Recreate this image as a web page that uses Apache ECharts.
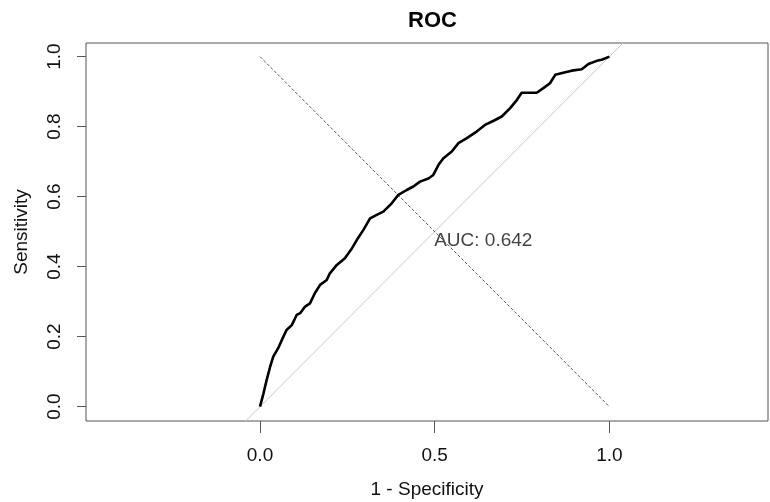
<!DOCTYPE html>
<html>
<head>
<meta charset="utf-8">
<script src="https://cdn.jsdelivr.net/npm/echarts@6/dist/echarts.min.js"></script>
<style>html,body{margin:0;padding:0;background:#fff}#c{width:770px;height:502px}</style>
</head>
<body>
<div id="c"></div>
<script>
// ROC curve points (1 - specificity, sensitivity)
var fpr = [0, 0.010, 0.019, 0.029, 0.038, 0.052, 0.067, 0.076, 0.091, 0.105, 0.115, 0.129, 0.143, 0.157, 0.172, 0.191, 0.200, 0.220, 0.243, 0.263, 0.277, 0.296, 0.315, 0.334, 0.353, 0.377, 0.396, 0.420, 0.439, 0.458, 0.482, 0.496, 0.511, 0.525, 0.549, 0.568, 0.592, 0.620, 0.644, 0.673, 0.692, 0.716, 0.735, 0.749, 0.792, 0.811, 0.830, 0.845, 0.868, 0.892, 0.921, 0.940, 0.964, 0.978, 1.0];
var tpr = [0, 0.038, 0.076, 0.114, 0.143, 0.167, 0.200, 0.219, 0.233, 0.262, 0.267, 0.286, 0.295, 0.324, 0.348, 0.362, 0.381, 0.405, 0.424, 0.452, 0.476, 0.505, 0.538, 0.548, 0.557, 0.581, 0.605, 0.619, 0.629, 0.643, 0.652, 0.662, 0.691, 0.710, 0.729, 0.753, 0.767, 0.786, 0.805, 0.819, 0.829, 0.853, 0.876, 0.897, 0.897, 0.910, 0.924, 0.948, 0.954, 0.960, 0.964, 0.979, 0.988, 0.991, 1.0];
var xTicks = [0, 0.5, 1.0];
var yTicks = [0, 0.2, 0.4, 0.6, 0.8, 1.0];
var xRange = [-0.498, 1.454];
var yRange = [-0.041, 1.039];
var aucText = 'AUC: 0.642';
var aucPos = [0.5, 0.5];
var refDash = [[0, 1], [1, 0]];
var titleText = 'ROC';
var xName = '1 - Specificity';
var yName = 'Sensitivity';

var FONT = '"Liberation Sans", Arial, sans-serif';
var chart = echarts.init(document.getElementById('c'), null, {renderer: 'canvas'});
var rocData = fpr.map(function (x, i) { return [x, tpr[i]]; });

chart.setOption({
  animation: false,
  backgroundColor: '#fff',
  title: {
    text: titleText, left: 408, top: 10, padding: 0,
    textStyle: {fontFamily: FONT, fontSize: 22, fontWeight: 'bold', color: '#000'}
  },
  grid: {left: 86, right: 2, top: 43, bottom: 81, show: true, borderColor: '#555', borderWidth: 1,
    containLabel: false, outerBoundsMode: 'none'},
  xAxis: {
    type: 'value', min: xRange[0], max: xRange[1],
    name: xName, nameLocation: 'middle', nameGap: 59,
    nameTextStyle: {fontFamily: FONT, fontSize: 19, color: '#111'},
    axisLine: {show: false, onZero: false},
    splitLine: {show: false},
    axisTick: {show: true, customValues: xTicks, length: 12, lineStyle: {color: '#555'}},
    axisLabel: {customValues: xTicks, margin: 25, fontFamily: FONT, fontSize: 19, color: '#111',
      formatter: function (v) { return v.toFixed(1); }}
  },
  yAxis: {
    type: 'value', min: yRange[0], max: yRange[1],
    name: yName, nameLocation: 'middle', nameGap: 55, nameRotate: 90,
    nameTextStyle: {fontFamily: FONT, fontSize: 19, color: '#111'},
    axisLine: {show: false, onZero: false},
    splitLine: {show: false},
    axisTick: {show: true, customValues: yTicks, length: 9, lineStyle: {color: '#555'}},
    axisLabel: {customValues: yTicks, rotate: 90, margin: 22, fontFamily: FONT, fontSize: 19, color: '#111',
      formatter: function (v) { return v.toFixed(1); }}
  },
  series: [
    {
      type: 'line', silent: true, symbol: 'none', clip: true,
      data: [[yRange[0], yRange[0]], [yRange[1], yRange[1]]],
      lineStyle: {color: '#c8c8c8', width: 1}
    },
    {
      type: 'line', silent: true, symbol: 'none',
      data: refDash,
      lineStyle: {color: '#555', width: 1, type: [3, 2]}
    },
    {
      type: 'line', silent: true, symbol: 'none',
      data: rocData,
      lineStyle: {color: '#000', width: 2.6, join: 'round'}
    },
    {
      type: 'scatter', silent: true, symbolSize: 1,
      itemStyle: {color: 'rgba(0,0,0,0)'},
      data: [aucPos],
      label: {show: true, formatter: aucText, position: [0, 0], align: 'left', verticalAlign: 'top',
        fontFamily: FONT, fontSize: 19, color: '#111'}
    }
  ]
});
</script>
</body>
</html>
